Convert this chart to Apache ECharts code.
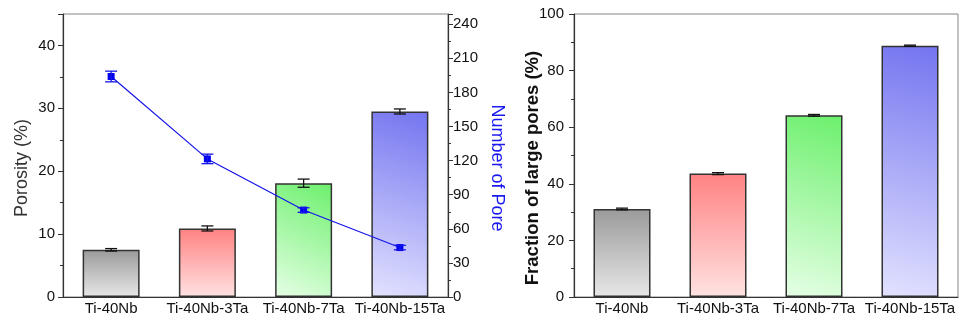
<!DOCTYPE html>
<html>
<head>
<meta charset="utf-8">
<script src="https://cdn.jsdelivr.net/npm/echarts@6/dist/echarts.min.js"></script>
<style>
  html, body { margin: 0; padding: 0; background: #ffffff; }
  #chart { width: 960px; height: 322px; }
</style>
</head>
<body>
<div id="chart"></div>
<script>
// values
const alloys = ['Ti-40Nb', 'Ti-40Nb-3Ta', 'Ti-40Nb-7Ta', 'Ti-40Nb-15Ta'];
const porosity = [7.5, 10.9, 18.1, 29.5];
const porosityErr = [0.2, 0.4, 0.65, 0.4];
const poreCount = [194, 121.5, 76.5, 43.5];
const poreCountErr = [4.7, 4.2, 2, 2];
const largeFraction = [31.1, 43.6, 64.2, 88.8];
const largeFractionErr = [0.3, 0.35, 0.3, 0.2];

const FONT = 'Arial, "Liberation Sans", sans-serif';
const AXIS = '#333333';
const BLUE = '#1414e8';

// top-right saturated -> bottom-left pale, one per alloy
const barFills = [
  { x: 0, y: 0, x2: 0, y2: 1, from: '#9a9a9a', to: '#e8e8e8' },
  { x: 0, y: 0, x2: 0, y2: 1, from: '#ff8282', to: '#ffe2e2' },
  { x: 1, y: 0, x2: 0, y2: 1, from: '#6cf06c', to: '#e6ffe6' },
  { x: 1, y: 0, x2: 0, y2: 1, from: '#7474f0', to: '#e2e2ff' },
];

function fill(i) {
  const f = barFills[i];
  return {
    type: 'linear', x: f.x, y: f.y, x2: f.x2, y2: f.y2,
    colorStops: [{ offset: 0, color: f.from }, { offset: 1, color: f.to }],
  };
}

function barSeries(values, xi, yi) {
  return {
    type: 'bar',
    xAxisIndex: xi,
    yAxisIndex: yi,
    barWidth: 57,
    data: values.map((v, i) => ({
      value: v,
      itemStyle: { color: fill(i), borderColor: AXIS, borderWidth: 1.5 },
    })),
    silent: true,
    z: 2,
  };
}

function errorSeries(values, errs, color, xi, yi, cap, z) {
  return {
    type: 'custom',
    xAxisIndex: xi,
    yAxisIndex: yi,
    z,
    silent: true,
    data: values.map((v, i) => [i, v, errs[i]]),
    renderItem(params, api) {
      const x = api.value(0), v = api.value(1), e = api.value(2);
      const hi = api.coord([x, v + e]);
      const lo = api.coord([x, v - e]);
      const h = cap / 2;
      const style = { stroke: color, lineWidth: 1.3 };
      return {
        type: 'group',
        children: [
          { type: 'line', shape: { x1: hi[0], y1: hi[1], x2: lo[0], y2: lo[1] }, style },
          { type: 'line', shape: { x1: hi[0] - h, y1: hi[1], x2: hi[0] + h, y2: hi[1] }, style },
          { type: 'line', shape: { x1: lo[0] - h, y1: lo[1], x2: lo[0] + h, y2: lo[1] }, style },
        ],
      };
    },
  };
}

function catAxis(gridIndex) {
  return {
    type: 'category',
    gridIndex,
    data: alloys,
    position: 'bottom',
    axisLine: { lineStyle: { color: AXIS, width: 1.2 } },
    axisTick: { alignWithLabel: true, length: 5, lineStyle: { color: AXIS } },
    axisLabel: { color: '#111', fontSize: 15, fontFamily: FONT, margin: 4, interval: 0 },
    splitLine: { show: false },
  };
}

// short ticks at category boundaries, parked on the bottom edge
function boundaryTicks(gridIndex) {
  return {
    type: 'category',
    gridIndex,
    data: alloys,
    position: 'top',
    offset: -283,
    axisLine: { show: false },
    axisTick: { inside: true, length: 3, lineStyle: { color: AXIS } },
    axisLabel: { show: false },
    splitLine: { show: false },
  };
}

function valAxis(gridIndex, position, max, interval, labelMargin, showMax) {
  return {
    type: 'value',
    gridIndex,
    position,
    min: 0,
    max,
    interval,
    axisLine: { show: true, lineStyle: { color: AXIS, width: 1.2 } },
    axisTick: { show: true, length: 5, lineStyle: { color: AXIS } },
    minorTick: { show: true, splitNumber: 2, length: 3, lineStyle: { color: AXIS } },
    axisLabel: { color: '#111', fontSize: 15, fontFamily: FONT, margin: labelMargin, showMaxLabel: showMax },
    splitLine: { show: false },
    minorSplitLine: { show: false },
  };
}

const option = {
  animation: false,
  backgroundColor: '#ffffff',
  grid: [
    { left: 63, right: 512, top: 14, bottom: 25, show: true, borderColor: '#858585', borderWidth: 1 },
    { left: 574, right: 2, top: 14, bottom: 25, show: true, borderColor: '#858585', borderWidth: 1 },
  ],
  xAxis: [catAxis(0), boundaryTicks(0), catAxis(1), boundaryTicks(1)],
  yAxis: [
    valAxis(0, 'left', 45, 10, 8, false),
    valAxis(0, 'right', 249, 30, 5, false),
    valAxis(1, 'left', 100, 20, 10, true),
  ],
  series: [
    barSeries(porosity, 0, 0),
    errorSeries(porosity, porosityErr, '#111', 0, 0, 12, 3),
    {
      type: 'line',
      xAxisIndex: 0,
      yAxisIndex: 1,
      data: poreCount,
      symbol: 'rect',
      symbolSize: 7,
      lineStyle: { color: BLUE, width: 1.2 },
      itemStyle: { color: '#0000f0' },
      silent: true,
      z: 4,
    },
    errorSeries(poreCount, poreCountErr, BLUE, 0, 1, 12, 5),
    barSeries(largeFraction, 2, 2),
    errorSeries(largeFraction, largeFractionErr, '#111', 2, 2, 12, 3),
  ],
  graphic: [
    {
      type: 'text', x: 22, y: 168, rotation: Math.PI / 2,
      style: { text: 'Porosity (%)', font: '18px ' + FONT, fill: '#333', align: 'center', verticalAlign: 'middle' },
    },
    {
      type: 'text', x: 497, y: 168, rotation: -Math.PI / 2,
      style: { text: 'Number of Pore', font: '18px ' + FONT, fill: '#1a1af0', align: 'center', verticalAlign: 'middle' },
    },
    {
      type: 'text', x: 533, y: 168, rotation: Math.PI / 2,
      style: { text: 'Fraction of large pores (%)', font: 'bold 18.5px ' + FONT, fill: '#111', align: 'center', verticalAlign: 'middle' },
    },
  ],
};

echarts.init(document.getElementById('chart'), null, { renderer: 'canvas' }).setOption(option);
</script>
</body>
</html>
